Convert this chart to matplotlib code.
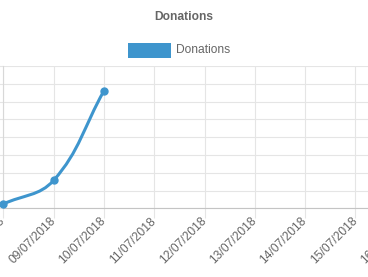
import matplotlib
matplotlib.use("Agg")
import matplotlib.pyplot as plt
import numpy as np
from matplotlib.path import Path
from matplotlib.patches import PathPatch, Rectangle

plt.rcParams['font.family'] = ['Liberation Sans', 'DejaVu Sans']

labels = ["08/07/2018", "09/07/2018", "10/07/2018", "11/07/2018", "12/07/2018",
          "13/07/2018", "14/07/2018", "15/07/2018", "16/07/2018"]
donations = [2.4, 15.7, 66.0]
y_ticks = [0, 10, 20, 30, 40, 50, 60, 70, 80]
series_name = "Donations"
title = "Donations"

W, H = 368, 277
fig = plt.figure(figsize=(W / 100, H / 100), dpi=100)
# plot area: x from 3.3 px (first label) spaced 50.3 px per label; y from 66 to 208.3 px
left_px, step_px = 3.3, 50.3
top_px, bot_px = 66.0, 208.3
right_px = left_px + step_px * (len(labels) - 1)
ax = fig.add_axes([left_px / W, (H - bot_px) / H, (right_px - left_px) / W, (bot_px - top_px) / H])
ax.set_xlim(0, len(labels) - 1)
ax.set_ylim(y_ticks[0], y_ticks[-1])

grid_c = "#e5e5e5"
ax.set_xticks(range(len(labels)))
ax.set_xticklabels(labels, rotation=45, ha='right', va='center', rotation_mode='anchor',
                   fontsize=8.64, color="#666666")
ax.set_yticks(y_ticks)
ax.tick_params(axis='y', labelleft=False, length=7, color=grid_c, width=0.8)
ax.tick_params(axis='x', length=7, color=grid_c, width=0.8, pad=1)
ax.grid(True, color=grid_c, linewidth=0.8)
ax.set_axisbelow(True)
for s in ['top', 'right']:
    ax.spines[s].set_visible(False)
ax.spines['left'].set_color("#d8d8d8")
ax.spines['left'].set_linewidth(0.8)
ax.spines['bottom'].set_color("#c4c4c4")
ax.spines['bottom'].set_linewidth(0.8)

color = "#3e95cd"
xs = np.arange(len(donations), dtype=float)
pts = ax.transData.transform(np.column_stack([xs, donations]))
t = 0.4
n = len(pts)
verts = [pts[0]]
codes = [Path.MOVETO]
ctrl = []
for i in range(n):
    prev = pts[i - 1] if i > 0 else pts[i]
    cur = pts[i]
    nxt = pts[i + 1] if i < n - 1 else pts[i]
    d01 = np.hypot(*(cur - prev))
    d12 = np.hypot(*(nxt - cur))
    tot = d01 + d12
    s01 = d01 / tot if tot else 0
    s12 = d12 / tot if tot else 0
    fa, fb = t * s01, t * s12
    ctrl.append((cur - fa * (nxt - prev), cur + fb * (nxt - prev)))
for i in range(1, n):
    verts += [ctrl[i - 1][1], ctrl[i][0], pts[i]]
    codes += [Path.CURVE4] * 3
verts = ax.transData.inverted().transform(np.array(verts))
ax.add_patch(PathPatch(Path(verts, codes), fill=False, edgecolor=color, linewidth=2.2,
                       clip_on=False, zorder=3))
ax.plot(xs, donations, linestyle='none', marker='o', markersize=5, color=color,
        clip_on=False, zorder=4)

fig.text(184 / W, 1 - 17 / H, title, ha='center', va='center', fontsize=8.64,
         fontweight='bold', color="#666666")
fig.patches.append(Rectangle((128 / W, 1 - 57.5 / H), 43 / W, 14.5 / H,
                             transform=fig.transFigure, facecolor=color, edgecolor='none'))
fig.text(176 / W, 1 - 50 / H, series_name, ha='left', va='center', fontsize=8.64,
         color="#666666")

fig.savefig("out.png", dpi=100)
